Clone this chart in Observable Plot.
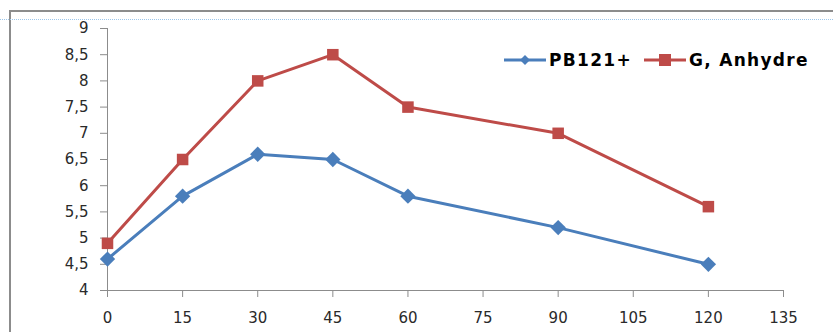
<!DOCTYPE html>
<html>
<head>
<meta charset="utf-8">
<script src="https://cdn.jsdelivr.net/npm/d3@7"></script>
<script src="https://cdn.jsdelivr.net/npm/@observablehq/plot@0.6"></script>
<style>
  html, body { margin: 0; padding: 0; background: #fff; }
  #wrap { position: relative; width: 833px; height: 332px; overflow: hidden; }
  #frame { position: absolute; left: 9px; top: 10px; right: -5px; bottom: -5px;
           border-left: 2px solid #8c8c8c; border-top: 2px solid #8c8c8c; }
  #dots { position: absolute; left: 0; right: 0; top: 19px; border-top: 1px dotted #9cc6ea; }
  #chart { position: absolute; left: 0; top: 0; }
  #legend { position: absolute; left: 504px; top: 50px; display: flex; align-items: center;
            font-family: "DejaVu Sans", sans-serif; font-weight: bold; font-size: 17px; letter-spacing: 1.3px; color: #000; }
  #legend .item { display: flex; align-items: center; }
  #legend svg { margin-right: 3px; }
</style>
</head>
<body>
<div id="wrap">
  <div id="frame"></div>
  <div id="dots"></div>
  <div id="chart"></div>
  <div id="legend"></div>
</div>
<script>
const times = [0, 15, 30, 45, 60, 90, 120];
const pb121 = [4.6, 5.8, 6.6, 6.5, 5.8, 5.2, 4.5];
const anhydre = [4.9, 6.5, 8.0, 8.5, 7.5, 7.0, 5.6];
const seriesNames = ["PB121+", "G, Anhydre"];
const xTicks = [0, 15, 30, 45, 60, 75, 90, 105, 120, 135];
const yTicks = [4, 4.5, 5, 5.5, 6, 6.5, 7, 7.5, 8, 8.5, 9];

const colors = ["#4a7ebb", "#be4b48"];

const rhombus = {
  draw(ctx, size) {
    const r = Math.sqrt(size) * 0.72;
    ctx.moveTo(0, -r); ctx.lineTo(r, 0); ctx.lineTo(0, r); ctx.lineTo(-r, 0); ctx.closePath();
  }
};
const square = {
  draw(ctx, size) {
    const h = Math.sqrt(size) / 2;
    ctx.rect(-h, -h, 2 * h, 2 * h);
  }
};

const data = [];
times.forEach((t, i) => {
  data.push({t, v: pb121[i], s: seriesNames[0]});
  data.push({t, v: anhydre[i], s: seriesNames[1]});
});

const fmt = d => String(d).replace(".", ",");
const axisFont = `"DejaVu Sans", sans-serif`;

const chart = Plot.plot({
  width: 833,
  height: 332,
  marginLeft: 107,
  marginRight: 50,
  marginTop: 28,
  marginBottom: 42,
  style: { fontFamily: axisFont, fontSize: "15px", color: "#333", background: "transparent", overflow: "visible" },
  x: { domain: [0, 135], ticks: xTicks, label: null, tickFormat: fmt },
  y: { domain: [4, 9], ticks: yTicks, label: null, tickFormat: fmt },
  color: { domain: seriesNames, range: colors },
  marks: [
    Plot.ruleY([4], { stroke: "#8c8c8c", strokeWidth: 1 }),
    Plot.ruleX([0], { stroke: "#8c8c8c", strokeWidth: 1 }),
    Plot.axisY({ ticks: yTicks, tickSize: 7, tickPadding: 12, stroke: "#8c8c8c", strokeOpacity: 1, tickFormat: fmt, fill: "#2a2a2a", fontSize: 15 }),
    Plot.axisX({ ticks: xTicks, tickSize: 7, tickPadding: 15, stroke: "#8c8c8c", strokeOpacity: 1, tickFormat: fmt, fill: "#2a2a2a", fontSize: 15 }),
    Plot.line(data, { x: "t", y: "v", z: "s", stroke: "s", strokeWidth: 3 }),
    Plot.dot(data.filter(d => d.s === seriesNames[0]), { x: "t", y: "v", symbol: () => rhombus, r: 6, fill: colors[0], stroke: null }),
    Plot.dot(data.filter(d => d.s === seriesNames[1]), { x: "t", y: "v", symbol: () => square, r: 6.5, fill: colors[1], stroke: null })
  ]
});
document.getElementById("chart").appendChild(chart);

const legend = document.getElementById("legend");
const gaps = [12, 0];
seriesNames.forEach((name, i) => {
  const item = document.createElement("div");
  item.className = "item";
  item.style.marginRight = gaps[i] + "px";
  const sym = i === 0
    ? `<path d="M21,5 L26,10 L21,15 L16,10 Z" fill="${colors[i]}"/>`
    : `<rect x="15" y="4" width="12" height="12" fill="${colors[i]}"/>`;
  item.innerHTML = `<svg width="42" height="20"><line x1="0" y1="10" x2="42" y2="10" stroke="${colors[i]}" stroke-width="3"/>${sym}</svg><span>${name}</span>`;
  legend.appendChild(item);
});
</script>
</body>
</html>
